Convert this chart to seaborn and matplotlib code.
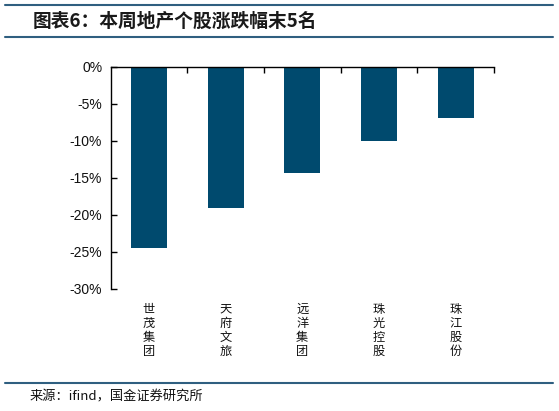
import matplotlib
matplotlib.use("Agg")
import matplotlib.pyplot as plt
import seaborn as sns
import pandas as pd
from matplotlib.ticker import FuncFormatter, FixedLocator
from matplotlib.lines import Line2D

categories = ["世茂集团", "天府文旅", "远洋集团", "珠光控股", "珠江股份"]
values = [-24.5, -19.1, -14.4, -10.0, -6.9]
yticks = [0, -5, -10, -15, -20, -25, -30]

sns.set_theme(style="white")
plt.rcParams['font.family'] = ['Liberation Sans', 'Noto Sans CJK SC', 'DejaVu Sans']

W, H = 559, 411
fig = plt.figure(figsize=(W / 100, H / 100), dpi=100)
left, right = 110.5 / W, 494 / W
top, bottom = 1 - 67 / H, 1 - 288.7 / H
ax = fig.add_axes([left, bottom, right - left, top - bottom])

df = pd.DataFrame({"cat": categories, "val": values})
sns.barplot(data=df, x="cat", y="val", color="#004A6E", saturation=1,
            width=0.47, ax=ax, edgecolor="none")

ax.set_ylim(-30, 0)
ax.set_xlim(-0.5, len(categories) - 0.5)
ax.set_yticks(yticks)
ax.yaxis.set_major_formatter(FuncFormatter(lambda v, p: f"{v:.0f}%"))
ax.tick_params(axis='y', direction='in', length=4, width=1, color='black',
               labelsize=10, pad=6, left=True, labelcolor='#111111')

ax.set_xticks(range(len(categories)))
ax.set_xticklabels(["\n".join(c) for c in categories], family=['Noto Sans CJK SC'],
                   fontsize=8.8, linespacing=1.12, color='#111111', va='top')
ax.tick_params(axis='x', which='major', bottom=False, top=False, length=0, pad=10)
ax.xaxis.set_minor_locator(FixedLocator([i + 0.5 for i in range(len(categories))]))
ax.tick_params(axis='x', which='minor', top=True, bottom=False, direction='in',
               length=4, width=1, color='black')
ax.set_xlabel("")
ax.set_ylabel("")

for s in ["right", "bottom"]:
    ax.spines[s].set_visible(False)
for s in ["left", "top"]:
    ax.spines[s].set_color("black")
    ax.spines[s].set_linewidth(1)

line_color = "#2F5F80"
for y in [5, 37, 383]:
    fig.add_artist(Line2D([5 / W, 553 / W], [1 - y / H, 1 - y / H],
                          color=line_color, lw=1.5, transform=fig.transFigure))

fig.text(33 / W, 1 - 21 / H, "图表6：本周地产个股涨跌幅末5名",
         family=['Noto Sans CJK SC', 'DejaVu Sans'], fontsize=13.5,
         fontweight='bold', style='italic', color='#1a1a1a', va='center', ha='left')
fig.text(30 / W, 1 - 397 / H, "来源：ifind，国金证券研究所",
         family=['Noto Sans CJK SC', 'DejaVu Sans'], fontsize=9.5,
         color='#111111', va='center', ha='left')

fig.savefig("out.png", dpi=100)
